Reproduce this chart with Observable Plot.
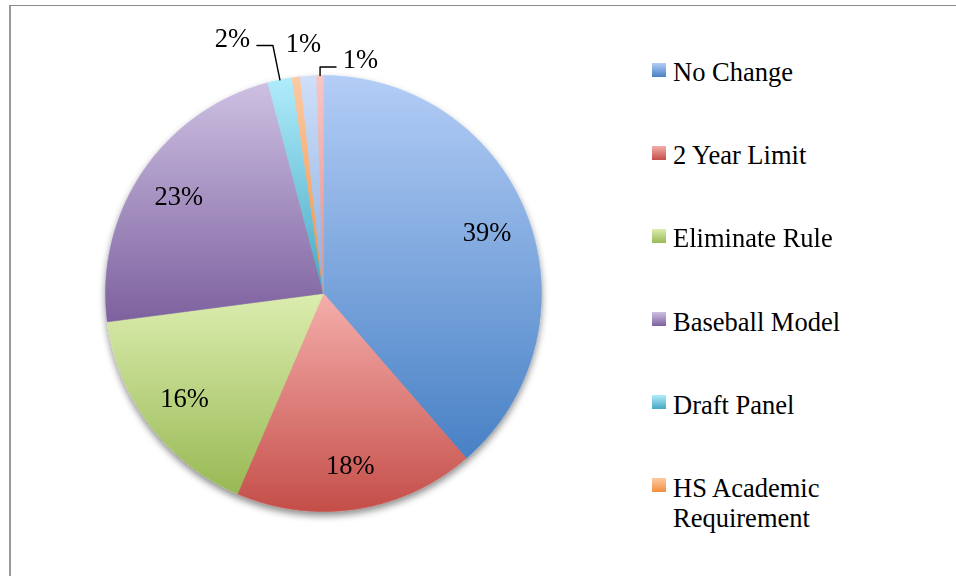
<!DOCTYPE html>
<html><head><meta charset="utf-8">
<script src="https://cdn.jsdelivr.net/npm/d3@7"></script>
<script src="https://cdn.jsdelivr.net/npm/@observablehq/plot@0.6"></script>
<style>
html,body{margin:0;padding:0;background:#fff;}
body{width:956px;height:576px;overflow:hidden;position:relative;font-family:"Liberation Serif",serif;}
#frame{position:absolute;left:9px;top:5px;width:980px;height:620px;border-left:2px solid #9a9a9a;border-top:1px solid #8a8a8a;z-index:3;pointer-events:none;}
#chart{position:absolute;left:0;top:0;width:640px;height:576px;}
#legend{position:absolute;left:652px;top:57px;display:flex;flex-direction:column;}
.item{position:relative;margin-bottom:53.2px;}
.sw{position:absolute;left:0;top:5.5px;width:14px;height:14px;}
.lb{margin-left:21px;width:200px;font-size:26.5px;line-height:30px;color:#000;}
</style></head><body>
<div id="frame"></div><div id="chart"></div><div id="legend"></div>
<script>
// ---- data ----
const categories = ["No Change", "2 Year Limit", "Eliminate Rule", "Baseball Model", "Draft Panel", "HS Academic Requirement", "Other", "Other 2"];
const percents = [38.6, 17.8, 16.45, 22.95, 1.8, 0.6, 1.2, 0.5];
const labelText = ["39%", "18%", "16%", "23%", "2%", "1%", null, "1%"];
const gradTop = ["#b3cdf6", "#f5aeab", "#dcedaf", "#cdc0e2", "#b0ecfc", "#fdcaa3", "#cfdff8", "#f8c6c4"];
const gradBottom = ["#4881c5", "#c44e49", "#98b954", "#7d619f", "#46a8c2", "#f38f3e", "#8aafe0", "#e0908d"];
const legendCount = 6; // entries beyond these fall outside the visible area

// ---- layout ----
const R = 218; // pixels per unit radius
const outsideLayout = {
  4: {nudge: [-41.4, -11.5], leader: {kx: -7, side: 1}},
  5: {nudge: [11.1, -3]},
  7: {nudge: [40.9, 15], leader: {kx: 0, side: -1}}
};

const total = d3.sum(percents);
let cum = 0;
const slices = percents.map((v, i) => {
  const a0 = cum / total; cum += v; const a1 = cum / total;
  return {i, name: categories[i], a0, a1, mid: (a0 + a1) / 2};
});
function polar(f, r) { const t = 2 * Math.PI * f; return [r * Math.sin(t), r * Math.cos(t)]; }
function slicePoints(s) {
  const pts = [[0, 0]];
  const n = Math.max(2, Math.ceil((s.a1 - s.a0) * 1440));
  for (let k = 0; k <= n; k++) pts.push(polar(s.a0 + (s.a1 - s.a0) * k / n, 1));
  pts.push([0, 0]);
  return pts;
}

const insideLabels = [], outsideLabels = [], leaders = [];
slices.forEach(s => {
  const t = labelText[s.i];
  if (!t) return;
  const lay = outsideLayout[s.i];
  if (!lay) {
    const p = polar(s.mid, 0.8);
    insideLabels.push({x: p[0], y: p[1], text: t});
  } else {
    const p = polar(s.mid, 1.14);
    const ux = p[0] + lay.nudge[0] / R, uy = p[1] - lay.nudge[1] / R;
    outsideLabels.push({x: ux, y: uy, text: t});
    if (lay.leader) {
      const st = polar(s.mid, 1.0);
      const ly = uy - 7 / R;
      leaders.push([st, [st[0] + lay.leader.kx / R, ly], [ux + lay.leader.side * 24.5 / R, ly]]);
    }
  }
});

const font = "'Liberation Serif', 'Times New Roman', serif";
const svg = Plot.plot({
  width: 640, height: 576,
  marginLeft: 105, marginRight: 99, marginTop: 75, marginBottom: 65,
  x: {domain: [-1, 1], axis: null},
  y: {domain: [-1, 1], axis: null},
  style: {fontFamily: font, background: "transparent", overflow: "visible"},
  marks: [
    ...slices.map(s => Plot.line(slicePoints(s), {
      x: d => d[0], y: d => d[1], curve: "linear",
      fill: `url(#grad${s.i})`, stroke: `url(#grad${s.i})`, strokeWidth: 0.6,
      ariaDescription: "slice"
    })),
    ...leaders.map(L => Plot.line(L, {x: d => d[0], y: d => d[1], stroke: "#000", strokeWidth: 1.4, curve: "linear"})),
    Plot.text(insideLabels, {x: "x", y: "y", text: "text", fontSize: 26.5, fill: "#000", fontFamily: font}),
    Plot.text(outsideLabels, {x: "x", y: "y", text: "text", fontSize: 26.5, fill: "#000", fontFamily: font})
  ]
});

const sel = d3.select(svg);
const defs = sel.insert("defs", ":first-child");
gradTop.forEach((c, i) => {
  const g = defs.append("linearGradient").attr("id", `grad${i}`).attr("x1", 0).attr("y1", 0).attr("x2", 0).attr("y2", 1);
  g.append("stop").attr("offset", "0%").attr("stop-color", c);
  g.append("stop").attr("offset", "100%").attr("stop-color", gradBottom[i]);
});
const f = defs.append("filter").attr("id", "shadow").attr("x", "-20%").attr("y", "-20%").attr("width", "140%").attr("height", "140%");
f.append("feGaussianBlur").attr("in", "SourceAlpha").attr("stdDeviation", 3.5);
f.append("feOffset").attr("dx", 0).attr("dy", 4).attr("result", "b");
f.append("feFlood").attr("flood-color", "#000").attr("flood-opacity", 0.45);
f.append("feComposite").attr("in2", "b").attr("operator", "in");
const m = f.append("feMerge"); m.append("feMergeNode"); m.append("feMergeNode").attr("in", "SourceGraphic");
const sliceGroups = sel.selectAll('g[aria-description="slice"]').nodes();
if (sliceGroups.length) {
  const wrap = document.createElementNS("http://www.w3.org/2000/svg", "g");
  wrap.setAttribute("filter", "url(#shadow)");
  sliceGroups[0].parentNode.insertBefore(wrap, sliceGroups[0]);
  sliceGroups.forEach(n => wrap.appendChild(n));
}
document.getElementById("chart").appendChild(svg);

// legend
const lg = d3.select("#legend");
categories.slice(0, legendCount).forEach((c, i) => {
  const it = lg.append("div").attr("class", "item");
  it.append("div").attr("class", "sw").style("background", `linear-gradient(to bottom, ${gradTop[i]}, ${gradBottom[i]})`);
  it.append("div").attr("class", "lb").text(c);
});
</script>
</body></html>
